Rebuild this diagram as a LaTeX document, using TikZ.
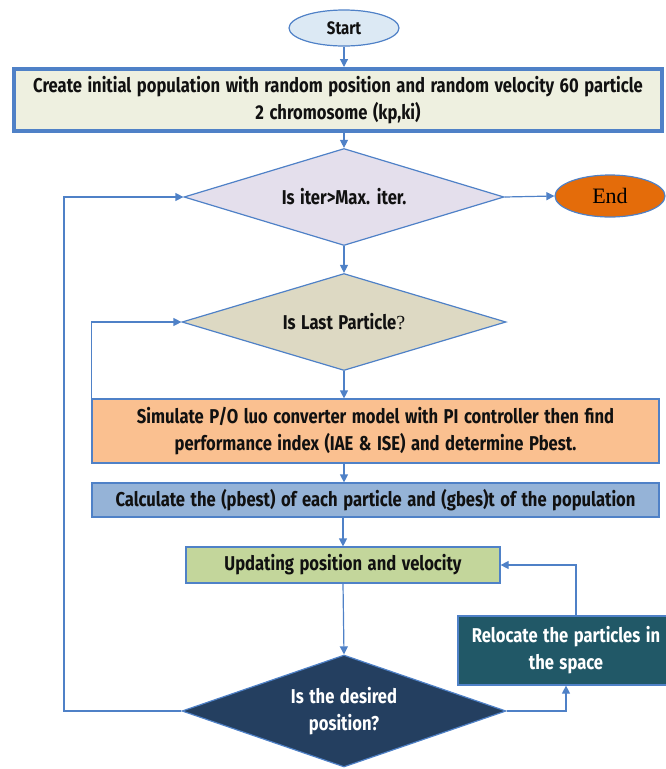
\documentclass[tikz,border=0pt]{standalone}
\usepackage{fontspec}
\newfontfamily\condfont[FakeStretch=0.83, WordSpace=1.4]{Fira Sans}
\newfontfamily\serifend{Liberation Serif}
\usetikzlibrary{
  arrows.meta,      % Triangle 箭头
  shapes.geometric  % 椭圆与菱形
}
\definecolor{linecol}{HTML}{4F81C7}
\definecolor{startfill}{HTML}{DCE9F4}
\definecolor{initfill}{HTML}{EEF0E0}
\definecolor{iterfill}{HTML}{E4DFEC}
\definecolor{lastfill}{HTML}{DDD9C3}
\definecolor{endfill}{HTML}{E46C0A}
\definecolor{simfill}{HTML}{FAC090}
\definecolor{calcfill}{HTML}{95B3D7}
\definecolor{updfill}{HTML}{C3D69B}
\definecolor{posfill}{HTML}{243F60}
\definecolor{relfill}{HTML}{215867}
\definecolor{txtcol}{HTML}{111111}
\newcommand\flowfont{\condfont\bfseries\fontsize{20}{27}\selectfont}

\begin{document}
\begin{tikzpicture}[x=1pt, y=-1pt, >={Triangle[length=8pt, width=8pt]},
  flow/.style={draw=linecol, line width=1.2pt, ->},
  box/.style={rectangle, draw=linecol, line width=1.2pt, inner sep=0pt,
    align=center, text=txtcol, font=\flowfont},
  ask/.style={diamond, draw=linecol, line width=1.2pt, inner sep=0pt,
    align=center, text=txtcol, font=\flowfont},
  term/.style={ellipse, draw=linecol, line width=1.2pt, inner sep=0pt}]
  % 画布大小（与原图像素一致）
  \useasboundingbox (0,0) rectangle (665,769);
  \def\midx{344}
  \coordinate (outer) at (64,0);

  % 1. 开始与初始化
  \node[term, fill=startfill, minimum width=110, minimum height=36,
    font=\flowfont\fontsize{18}{20}\selectfont, text=txtcol] (start) at (\midx,28) {Start};
  \node[box, fill=initfill, line width=4pt, minimum width=648, minimum height=62]
    (init) at (338,100) {Create initial population with random position and random velocity 60 particle\\
    2 chromosome (kp,ki)};

  % 2. 两个判断
  \node[ask, aspect=3.3, fill=iterfill, minimum width=320, minimum height=97] (iter) at (\midx,197)
    {Is iter>Max. iter.};
  \node[term, fill=endfill, minimum width=110, minimum height=42,
    font=\serifend\fontsize{22}{24}\selectfont] (end) at (610,196) {End};
  \node[ask, aspect=3.3, fill=lastfill, minimum width=324, minimum height=97] (last) at (\midx,322)
    {Is Last Particle{\mdseries\serifend ?}};

  % 3. 计算步骤
  \node[box, fill=simfill, minimum width=567, minimum height=64] (sim) at (375.5,431)
    {Simulate P/O luo converter model with PI controller then find\\
    performance index (IAE \& ISE) and determine Pbest.};
  \node[box, fill=calcfill, minimum width=567, minimum height=34] (calc) at (375.5,500)
    {Calculate the (pbest) of each particle and (gbes)t of the population};
  \node[box, fill=updfill, minimum width=314, minimum height=36] (upd) at (343,565)
    {Updating position and velocity};

  % 4. 位置判断与重新定位
  \node[ask, aspect=2.9, fill=posfill, text=white, minimum width=324, minimum height=112] (pos) at (\midx,711)
    {Is the desired\\ position?};
  \node[box, fill=relfill, text=white, minimum width=216, minimum height=69] (rel) at (566,650.5)
    {Relocate the particles in\\ the space};

  % 5. 连线
  \draw[flow] (start.south) -- (start.south |- init.north);
  \draw[flow] (start.south |- init.south) -- (iter.north);
  \draw[flow] (iter.east) -- (end.west);
  \draw[flow] (iter.south) -- (last.north);
  \draw[flow] (last.south) -- (last.south |- sim.north);
  \draw[flow] (last.south |- sim.south) -- (last.south |- calc.north);
  \draw[flow] (upd.north |- calc.south) -- (upd.north);
  \draw[flow] (upd.south) -- (pos.north);
  \draw[flow] (pos.east) -| (rel.south);
  \draw[flow] ([xshift=10pt]rel.north) |- (upd.east);
  \draw[flow] (sim.north west) |- (last.west);
  \draw[flow] (pos.west) -- (pos.west -| outer) -- (iter.west -| outer) -- (iter.west);
\end{tikzpicture}
\end{document}
